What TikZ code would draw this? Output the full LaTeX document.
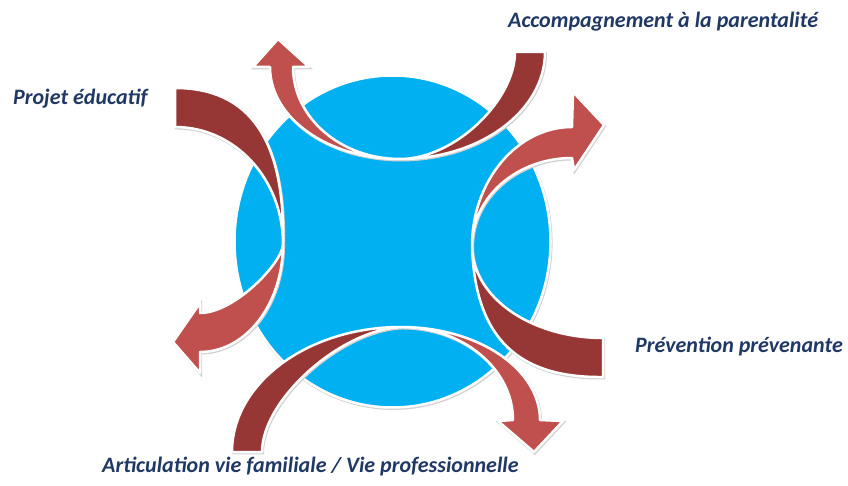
\documentclass[tikz,border=0pt]{standalone}
\usepackage{fontspec}
\setmainfont{Carlito}
\usepackage{xcolor}
\usepackage{tikz}

\definecolor{skyblue}{RGB}{0,176,240}
\definecolor{darkred}{RGB}{150,55,53}
\definecolor{lightred}{RGB}{192,80,77}
\definecolor{navy}{RGB}{31,56,100}

\begin{document}
\begin{tikzpicture}[x=1pt, y=-1pt,
  band/.style={draw=white, line width=2.5pt, line join=round,
    preaction={draw=black!18, fill=black!18, line width=2.5pt,
      transform canvas={shift={(0.8pt,-1.2pt)}}}},
  txt/.style={font=\fontsize{22}{24}\selectfont\bfseries\itshape, text=navy,
    anchor=base west, inner sep=0pt}]
\useasboundingbox (0,0) rectangle (848,486);

% Central disc
\path[band, fill=skyblue] (392.5,241.5) ellipse [x radius=158pt, y radius=166pt];

% Top arrow
\path[band, fill=darkred] (400,159) .. controls (480,159) and (545,111) .. (545,52)
  -- (515,52) .. controls (515,100) and (455,159) .. (400,159) -- cycle;
\path[band, fill=lightred] (400,159) .. controls (341,159) and (293,118) .. (293,67)
  -- (309,67) -- (278,39) -- (253,67) -- (270,67)
  .. controls (270,118) and (328,159) .. (400,159) -- cycle;

% Right arrow
\path[band, fill=darkred] (472,246) .. controls (472,297) and (531,338) .. (603,338)
  -- (603,377) .. controls (520,378) and (475,340) .. (472,246) -- cycle;
\path[band, fill=lightred] (472,246) .. controls (472,181) and (517,127) .. (572,127)
  -- (573,92) -- (604,125) -- (574,170) -- (572,158)
  .. controls (517,158) and (472,197) .. (472,246) -- cycle;

% Bottom arrow
\path[band, fill=darkred] (401,327) .. controls (308,327) and (232,383) .. (232,452)
  -- (262,452) .. controls (262,400) and (340,330) .. (401,327) -- cycle;
\path[band, fill=lightred] (401,327) .. controls (478,327) and (540,369) .. (540,420)
  -- (563,421) -- (534,452) -- (498,421) -- (513,420)
  .. controls (513,369) and (463,327) .. (401,327) -- cycle;

% Left arrow
\path[band, fill=darkred] (283,244) .. controls (285,140) and (250,88) .. (175,88)
  -- (175,127) .. controls (235,127) and (283,179) .. (283,244) -- cycle;
\path[band, fill=lightred] (283,244) .. controls (283,304) and (246,352) .. (200,352)
  -- (200,373) -- (173,342) -- (200,303) -- (200,313)
  .. controls (235,313) and (283,262) .. (283,244) -- cycle;

% Labels
\node[txt] (projet) at (13,105) {Projet éducatif};
\node[txt] (accompagnement) at (508,28) {Accompagnement à la parentalité};
\node[txt] (prevention) at (635,352) {Prévention prévenante};
\node[txt] (articulation) at (102,472) {Articulation vie familiale / Vie professionnelle};
\end{tikzpicture}
\end{document}
